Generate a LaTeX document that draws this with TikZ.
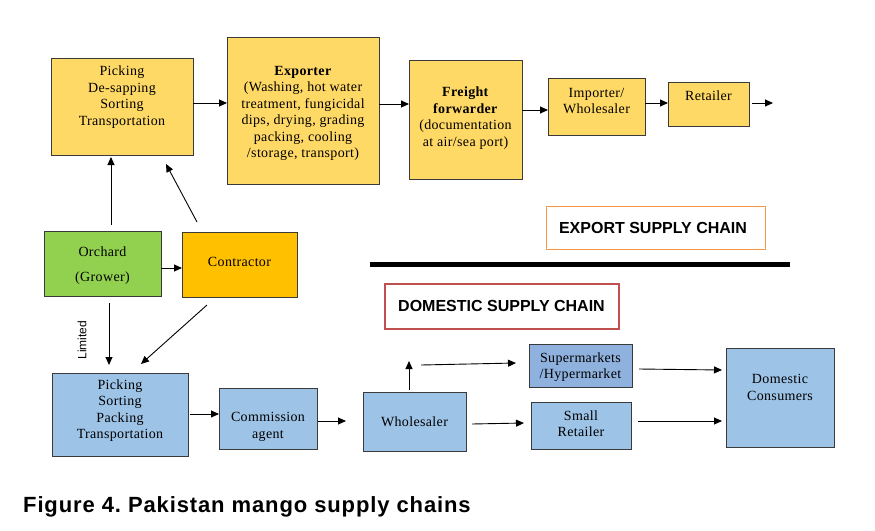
\documentclass[tikz,border=0pt]{standalone}
\usepackage{fontspec}
\setmainfont{Liberation Serif}[LetterSpace=2.5]
\setsansfont{Liberation Sans}
\usetikzlibrary{arrows.meta}
\definecolor{ylw}{HTML}{FFD966}
\definecolor{grn}{HTML}{92D050}
\definecolor{org}{HTML}{FFC000}
\definecolor{blu}{HTML}{9DC3E6}
\definecolor{bludk}{HTML}{8EB1DD}
\definecolor{redb}{HTML}{C0504D}
\definecolor{orgb}{HTML}{F79646}
\definecolor{edge}{HTML}{3A3A3A}
\begin{document}
\frenchspacing
\begin{tikzpicture}[x=1pt,y=-1pt,
  box/.style={draw=edge,line width=0.9pt,inner sep=0pt,minimum width=#1},
  txt/.style={font=\fontsize{14}{16.5}\selectfont,align=center,inner sep=0pt},
  arr/.style={-{Triangle[length=8pt,width=7pt]},line width=0.9pt,draw=black},
  lbl/.style={font=\sffamily\bfseries\fontsize{16}{19}\selectfont,inner sep=0pt}]
\useasboundingbox[fill=white] (0,0) rectangle (875,530);

% export chain boxes
\node[box=142pt,minimum height=97pt,fill=ylw] (pick1) at (122,106.5) {};
\node[txt] (pick1t) at (122,97) {Picking\\De-sapping\\Sorting\\Transportation};
\node[box=152pt,minimum height=147pt,fill=ylw] (exp) at (303,110.5) {};
\node[txt] (expt) at (303,113.5) {\textbf{Exporter}\\(Washing, hot water\\treatment, fungicidal\\dips, drying, grading\\packing, cooling\\/storage, transport)};
\node[box=113pt,minimum height=119pt,fill=ylw] (ff) at (465.5,119.5) {};
\node[txt] (fft) at (465.5,118) {\textbf{Freight}\\\textbf{forwarder}\\(documentation\\at air/sea port)};
\node[box=97pt,minimum height=57pt,fill=ylw] (imp) at (596.5,106.5) {};
\node[txt] (impt) at (596.5,101) {Importer/\\Wholesaler};
\node[box=81pt,minimum height=44pt,fill=ylw] (ret) at (708.5,104) {};
\node[txt] (rett) at (708.5,96) {Retailer};

% grower / contractor
\node[box=117pt,minimum height=65pt,fill=grn] (orch) at (102.5,263.5) {};
\node[txt,font=\fontsize{14}{25}\selectfont] (orcht) at (102.5,265.5) {Orchard\\(Grower)};
\node[box=115pt,minimum height=65pt,fill=org] (con) at (239.5,264.5) {};
\node[txt] (cont) at (239.5,262) {Contractor};

% domestic chain boxes
\node[box=136pt,minimum height=83pt,fill=blu] (pick2) at (120,414.5) {};
\node[txt] (pick2t) at (120,410.5) {Picking\\Sorting\\Packing\\Transportation};
\node[box=98pt,minimum height=61pt,fill=blu] (com) at (268,418.5) {};
\node[txt] (comt) at (268,427) {Commission\\agent};
\node[box=103pt,minimum height=59pt,fill=blu] (whs) at (414.5,421.5) {};
\node[txt] (whst) at (414.5,422) {Wholesaler};
\node[box=103pt,minimum height=43pt,fill=bludk] (sup) at (580.5,365.5) {};
\node[txt] (supt) at (580.5,367) {Supermarkets\\/Hypermarket};
\node[box=100pt,minimum height=47pt,fill=blu] (sml) at (581,425.5) {};
\node[txt] (smlt) at (581,423.5) {Small\\Retailer};
\node[box=108pt,minimum height=99pt,fill=blu] (dom) at (780,397.5) {};
\node[txt] (domt) at (780,387.5) {Domestic\\Consumers};

% section labels
\node[draw=orgb,line width=0.9pt,minimum width=219pt,minimum height=43pt,inner sep=0pt] (explbl) at (655.5,227.5) {};
\node[lbl] (explblt) at (653,228) {EXPORT SUPPLY CHAIN};
\node[draw=redb,line width=2pt,minimum width=234pt,minimum height=45pt,inner sep=0pt] (domlbl) at (501.5,306) {};
\node[lbl] (domlblt) at (501.5,306) {DOMESTIC SUPPLY CHAIN};
\coordinate (divL) at (370,264);
\coordinate (divR) at (790,264);
\draw[line width=5pt] (divL) -- (divR);

\node[font=\sffamily\fontsize{12}{14}\selectfont,rotate=90,inner sep=0pt] (lim) at (82,340) {Limited};

% caption
\node[font=\sffamily\bfseries\fontsize{22}{26}\selectfont\addfontfeature{LetterSpace=4},anchor=west,inner sep=0pt] (cap) at (23,507) {Figure 4. Pakistan mango supply chains};

% connectors, export
\coordinate (a1) at (193,103); \coordinate (a1e) at (227,103);
\draw[arr] (a1) -- (a1e);
\coordinate (a2) at (379,104); \coordinate (a2e) at (409,104);
\draw[arr] (a2) -- (a2e);
\coordinate (a3) at (522,110); \coordinate (a3e) at (548,110);
\draw[arr] (a3) -- (a3e);
\coordinate (a4) at (645,103); \coordinate (a4e) at (668,103);
\draw[arr] (a4) -- (a4e);
\coordinate (a5) at (752,103); \coordinate (a5e) at (773,103);
\draw[arr] (a5) -- (a5e);
\coordinate (a6) at (161,268); \coordinate (a6e) at (182,268);
\draw[arr] (a6) -- (a6e);
\coordinate (a7) at (111,225); \coordinate (a7e) at (111,157);
\draw[arr] (a7) -- (a7e);
\coordinate (a8) at (197,222); \coordinate (a8e) at (166,164);
\draw[arr] (a8) -- (a8e);
% connectors, domestic
\coordinate (b1) at (109,303); \coordinate (b1e) at (109,365);
\draw[arr] (b1) -- (b1e);
\coordinate (b2) at (207,305); \coordinate (b2e) at (141,364);
\draw[arr] (b2) -- (b2e);
\coordinate (b3) at (190,414); \coordinate (b3e) at (219,414);
\draw[arr] (b3) -- (b3e);
\coordinate (b4) at (318,421); \coordinate (b4e) at (346,421);
\draw[arr] (b4) -- (b4e);
\coordinate (b5) at (409,390); \coordinate (b5e) at (409,361);
\draw[arr] (b5) -- (b5e);
\coordinate (b6) at (421,365); \coordinate (b6e) at (516,363);
\draw[arr] (b6) -- (b6e);
\coordinate (b7) at (472,424); \coordinate (b7e) at (524,423);
\draw[arr] (b7) -- (b7e);
\coordinate (b8) at (639,369); \coordinate (b8e) at (722,370);
\draw[arr] (b8) -- (b8e);
\coordinate (b9) at (638,421); \coordinate (b9e) at (722,421);
\draw[arr] (b9) -- (b9e);
\end{tikzpicture}
\end{document}
